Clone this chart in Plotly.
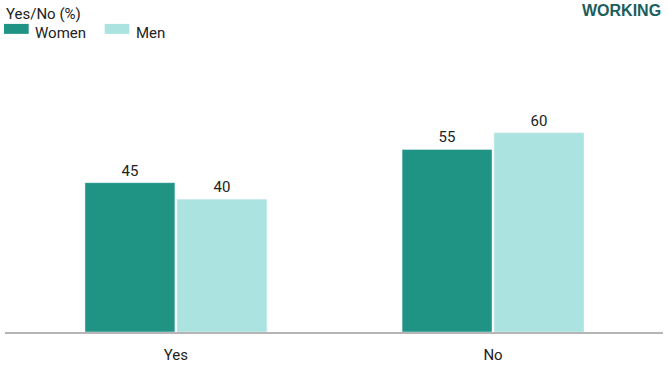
import plotly.graph_objects as go

categories = ["Yes", "No"]
women = [45, 55]
men = [40, 60]
series_names = ["Women", "Men"]

FONT = "Roboto, sans-serif"
C_WOMEN = "#1f9485"
C_MEN = "#aae3e0"

fig = go.Figure()
fig.add_bar(x=categories, y=women, name=series_names[0], marker_color=C_WOMEN,
            text=women, textposition="outside", cliponaxis=False,
            textfont=dict(size=15, color="#222", family=FONT))
fig.add_bar(x=categories, y=men, name=series_names[1], marker_color=C_MEN,
            text=men, textposition="outside", cliponaxis=False,
            textfont=dict(size=15, color="#222", family=FONT))

fig.update_layout(
    width=668, height=365,
    margin=dict(l=5, r=5, t=100, b=33, autoexpand=False),
    paper_bgcolor="white", plot_bgcolor="white",
    barmode="group", bargap=0.42, bargroupgap=0.022,
    showlegend=False,
    font=dict(family=FONT, size=15, color="#222"),
    xaxis=dict(range=[-0.539, 1.536], showline=True, linecolor="#b5b5b5", linewidth=2,
               automargin=False,
               ticks="outside", ticklen=8, tickcolor="rgba(0,0,0,0)",
               tickfont=dict(size=15, family=FONT, color="#222"), showgrid=False),
    yaxis=dict(range=[0, 69.9], visible=False, showgrid=False, automargin=False),
    annotations=[
        dict(text="Yes/No (%)", xref="paper", yref="paper", x=-0.0, y=1, xanchor="left", yanchor="middle",
             yshift=86, xshift=-1, showarrow=False, font=dict(size=15, family=FONT, color="#222")),
        dict(text="<b>WORKING</b>", xref="paper", yref="paper", x=1, y=1, xanchor="right", yanchor="middle",
             yshift=90, showarrow=False, font=dict(size=16, family="Liberation Sans, Arial, sans-serif", color="#1b5e5c")),
        dict(text=series_names[0], xref="paper", yref="paper", x=0, y=1, xanchor="left", yanchor="middle",
             xshift=28, yshift=67, showarrow=False, font=dict(size=15, family=FONT, color="#222")),
        dict(text=series_names[1], xref="paper", yref="paper", x=0, y=1, xanchor="left", yanchor="middle",
             xshift=129, yshift=67, showarrow=False, font=dict(size=15, family=FONT, color="#222")),
    ],
    shapes=[
        dict(type="rect", xref="paper", yref="paper", x0=-0.0015, x1=0.036, y0=1.285, y1=1.328,
             fillcolor=C_WOMEN, line_width=0),
        dict(type="rect", xref="paper", yref="paper", x0=0.1515, x1=0.189, y0=1.285, y1=1.328,
             fillcolor=C_MEN, line_width=0),
    ],
)

fig.write_html("out.html", config={"displayModeBar": False},
               post_script="document.body.style.margin='0';document.body.style.overflow='hidden';")
